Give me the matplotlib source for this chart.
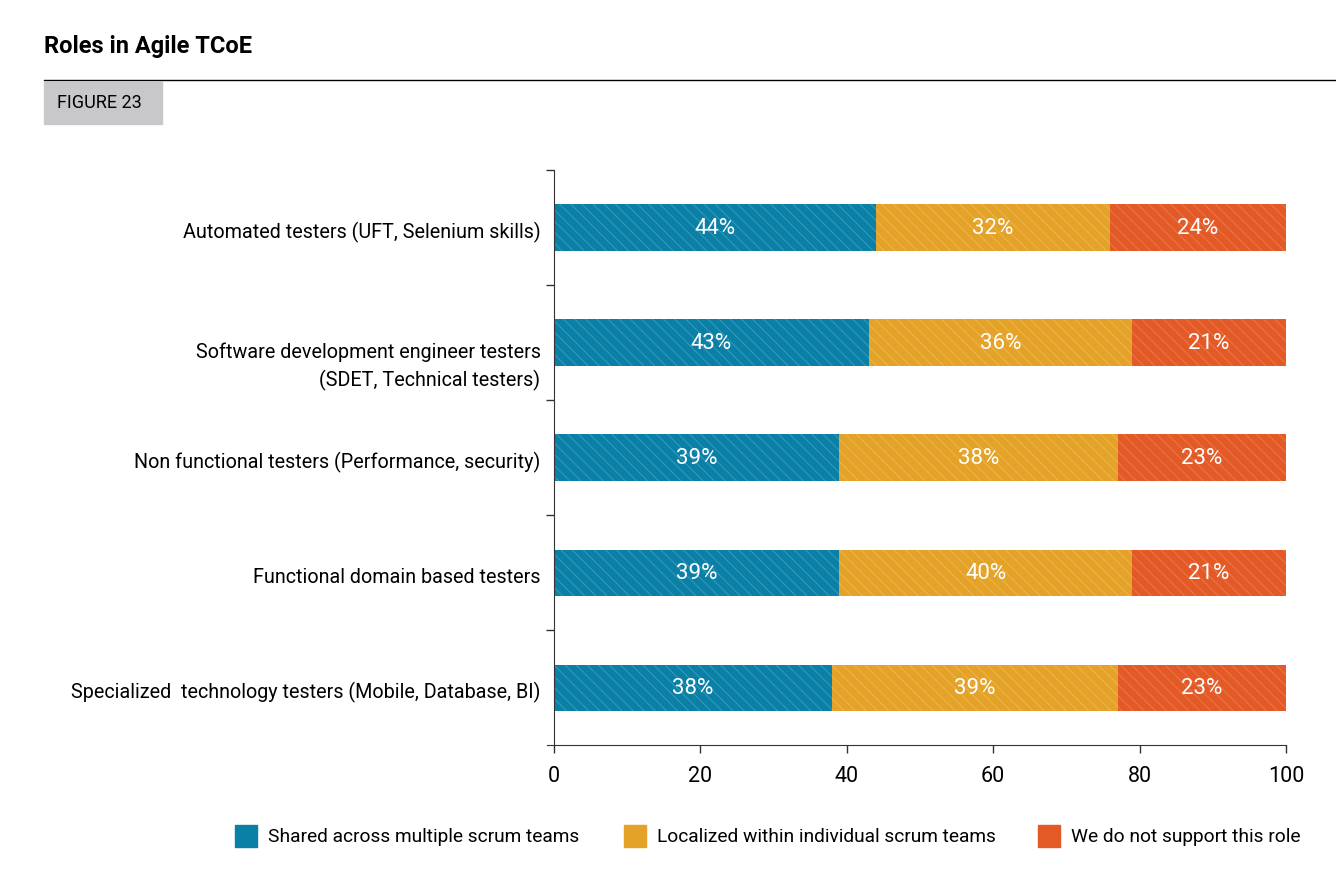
import matplotlib
matplotlib.use("Agg")
import matplotlib.pyplot as plt
import matplotlib.patches as mpatches
import numpy as np

plt.rcParams['font.family'] = ['Roboto', 'DejaVu Sans']
plt.rcParams['hatch.linewidth'] = 0.7

# dados
categorias = [
    "Automated testers (UFT, Selenium skills)",
    "Software development engineer testers\n(SDET, Technical testers)",
    "Non functional testers (Performance, security)",
    "Functional domain based testers",
    "Specialized  technology testers (Mobile, Database, BI)",
]
compartilhado = [44, 43, 39, 39, 38]
localizado = [32, 36, 38, 40, 39]
nao_suporta = [24, 21, 23, 21, 23]
series_nomes = [
    "Shared across multiple scrum teams",
    "Localized within individual scrum teams",
    "We do not support this role",
]
xticks = [0, 20, 40, 60, 80, 100]

cores = ["#0B80A7", "#E4A229", "#E35A27"]
cores_hatch = ["#3A9ABA", "#ECB64E", "#EA774D"]

W, H = 1336, 888
fig = plt.figure(figsize=(W / 100, H / 100), dpi=100)
ax = fig.add_axes([547 / W, 1 - 745 / H, (1286 - 547) / W, (745 - 170) / H])

y = np.arange(len(categorias))[::-1]
esquerda = np.zeros(len(categorias))
for vals, cor, ch in zip([compartilhado, localizado, nao_suporta], cores, cores_hatch):
    vals = np.array(vals)
    ax.barh(y, vals, left=esquerda, height=0.4, color=cor, edgecolor=ch,
            linewidth=0, hatch='\\\\\\')
    for yi, l, v in zip(y, esquerda, vals):
        ax.annotate(f"{v}%", xy=(l + v / 2, yi), xytext=(0, -1),
                    textcoords='offset pixels', ha='center', va='center',
                    color='white', fontsize=16)
    esquerda = esquerda + vals

ax.set_xlim(-0.9, 100)
ax.set_ylim(-0.5, len(categorias) - 0.5)
ax.spines['left'].set_position(('data', 0))
ax.spines['top'].set_visible(False)
ax.spines['right'].set_visible(False)
ax.spines['left'].set_color('#333333')
ax.spines['bottom'].set_color('#333333')

ax.set_xticks(xticks)
ax.set_xticklabels([str(t) for t in xticks], fontsize=15.5)
ax.tick_params(axis='x', length=6, width=1, pad=9, color='#333333')

ax.set_yticks(np.arange(0.5, len(categorias), 1.0))
ax.set_yticklabels([])
ax.tick_params(axis='y', length=6, width=1, direction='out', color='#333333')

# rótulos das categorias
for yi, cat in zip(y, categorias):
    dy = -19 if "\n" in cat else 0
    ax.annotate(cat, xy=(0, yi), xycoords=('data', 'data'),
                xytext=(-13, dy - 5), textcoords='offset pixels',
                ha='right', va='center', fontsize=14.2, linespacing=1.5)

# titulo e cabeçalho
fig.text(44 / W, 1 - 47 / H, "Roles in Agile TCoE", fontsize=17,
         fontweight='bold', ha='left', va='center')
fig.add_artist(plt.Line2D([44 / W, 1], [1 - 80 / H, 1 - 80 / H],
                          color='black', linewidth=1, transform=fig.transFigure))
fig.add_artist(mpatches.Rectangle((44 / W, 1 - 124 / H), (162 - 44) / W, (124 - 82) / H,
                                  color='#C8C8CA', transform=fig.transFigure))
fig.text(57 / W, 1 - 103 / H, "FIGURE 23", fontsize=13, ha='left', va='center')

# legenda manual
leg_x = [235, 624, 1038]
for lx, nome, cor in zip(leg_x, series_nomes, cores):
    fig.add_artist(mpatches.Rectangle((lx / W, 1 - 847 / H), 22 / W, 22 / H,
                                      color=cor, transform=fig.transFigure))
    fig.text((lx + 33) / W, 1 - 837 / H, nome, fontsize=13.8, ha='left', va='center')

plt.savefig("out.png", dpi=100)
